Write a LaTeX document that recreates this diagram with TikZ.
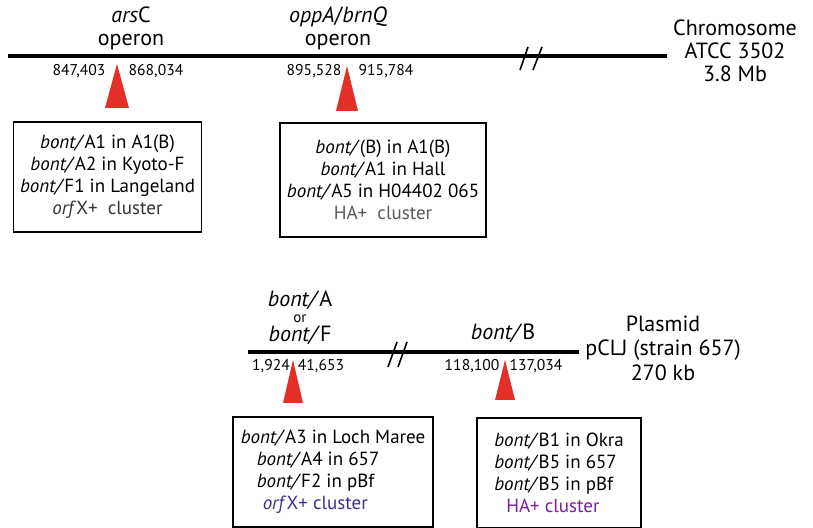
\documentclass[tikz,border=0pt]{standalone}
\usepackage{fontspec}
\setmainfont{PT Sans}
\usetikzlibrary{positioning}
\definecolor{sitered}{RGB}{226,48,40}
\definecolor{orfblue}{RGB}{60,45,150}
\definecolor{hapurple}{RGB}{120,30,160}

\begin{document}
\begin{tikzpicture}[x=0.5pt,y=-0.5pt,
  genelabel/.style={align=center,font=\fontsize{11}{11.5}\selectfont},
  poslabel/.style={font=\fontsize{7.8}{9}\selectfont},
  dnaline/.style={line width=1.6pt},
  breakmark/.style={line width=0.8pt},
  site/.style={fill=sitered},
  strainbox/.style={draw,line width=0.8pt,minimum width=94pt,minimum height=55pt,
    font=\fontsize{9.5}{11}\selectfont}]
\useasboundingbox (0,0) rectangle (813,528);
% chromosome
\coordinate (chrL) at (8,56);
\coordinate (chrR) at (667,56);
\draw [dnaline] (chrL) -- (chrR);
\draw [breakmark] (528,47) -- (520,70);
\draw [breakmark] (542,47) -- (533,70);
\node (chr) [genelabel] at (735,51) {Chromosome\\ATCC 3502\\3.8 Mb};
\node (ars) [genelabel] at (131,28) {\textit{ars}C\\operon};
\node (opp) [genelabel] at (338,28) {\textit{oppA}/\textit{brnQ}\\operon};
\node (p1) [poslabel] at (79,71) {847,403};
\node (p2) [poslabel] at (156,71) {868,034};
\node (p3) [poslabel] at (314,71) {895,528};
\node (p4) [poslabel] at (386,71) {915,784};
\fill [site] (117,64) -- (129,108) -- (105,108) -- cycle;
\fill [site] (347,66) -- (358,111) -- (336,111) -- cycle;
\node (boxA) [strainbox,align=center] at (107.5,177)
  {\textit{bont/}A1 in A1(B)\\\textit{bont/}A2 in Kyoto-F\\\textit{bont/}F1 in Langeland\\
   \textcolor{black!80}{\textit{orf}X+ \ cluster}};
\node (boxB) [strainbox,align=center,minimum width=100pt,minimum height=57pt] at (383,180)
  {\textit{bont/}(B) in A1(B)\\\textit{bont/}A1 in Hall\\\textit{bont/}A5 in H04402 065\\
   \textcolor{black!65}{HA+ \ cluster}};
% plasmid
\coordinate (plsL) at (248,352);
\coordinate (plsR) at (579,352);
\draw [dnaline] (plsL) -- (plsR);
\draw [breakmark] (397,342) -- (388,367);
\draw [breakmark] (407,342) -- (398,367);
\node (pls) [genelabel,font=\fontsize{11}{12.2}\selectfont] at (663,348) {Plasmid\\pCLJ (strain 657)\\270 kb};
\node (bontA) [genelabel,inner sep=0pt] at (300,300) {\textit{bont/}A};
\node (bontor) [font=\fontsize{7.5}{8}\selectfont,inner sep=0pt] at (300,319) {or};
\node (bontF) [genelabel,inner sep=0pt] at (300,335) {\textit{bont/}F};
\node (bontB) [genelabel] at (503,333) {\textit{bont/}B};
\node (p5) [poslabel] at (271,366) {1,924};
\node (p6) [poslabel] at (321,366) {41,653};
\node (p7) [poslabel] at (472,366) {118,100};
\node (p8) [poslabel] at (536,366) {137,034};
\fill [site] (293,360) -- (303,403) -- (283,403) -- cycle;
\fill [site] (505,360) -- (515,400) -- (495,400) -- cycle;
\node (boxC) [strainbox,align=left,minimum width=100pt,minimum height=55pt] at (333,472)
  {\textit{bont/}A3 in Loch Maree\\\hspace{8pt}\textit{bont/}A4 in 657\\
   \hspace{8pt}\textit{bont/}F2 in pBf\\\hspace{11pt}\textcolor{orfblue}{\textit{orf}X+ cluster}};
\node (boxD) [strainbox,align=left,minimum width=82pt,minimum height=55pt] at (559,473)
  {\textit{bont/}B1 in Okra\\\textit{bont/}B5 in 657\\\textit{bont/}B5 in pBf\\
   \hspace{6pt}\textcolor{hapurple}{HA+ cluster}};
\end{tikzpicture}
\end{document}
